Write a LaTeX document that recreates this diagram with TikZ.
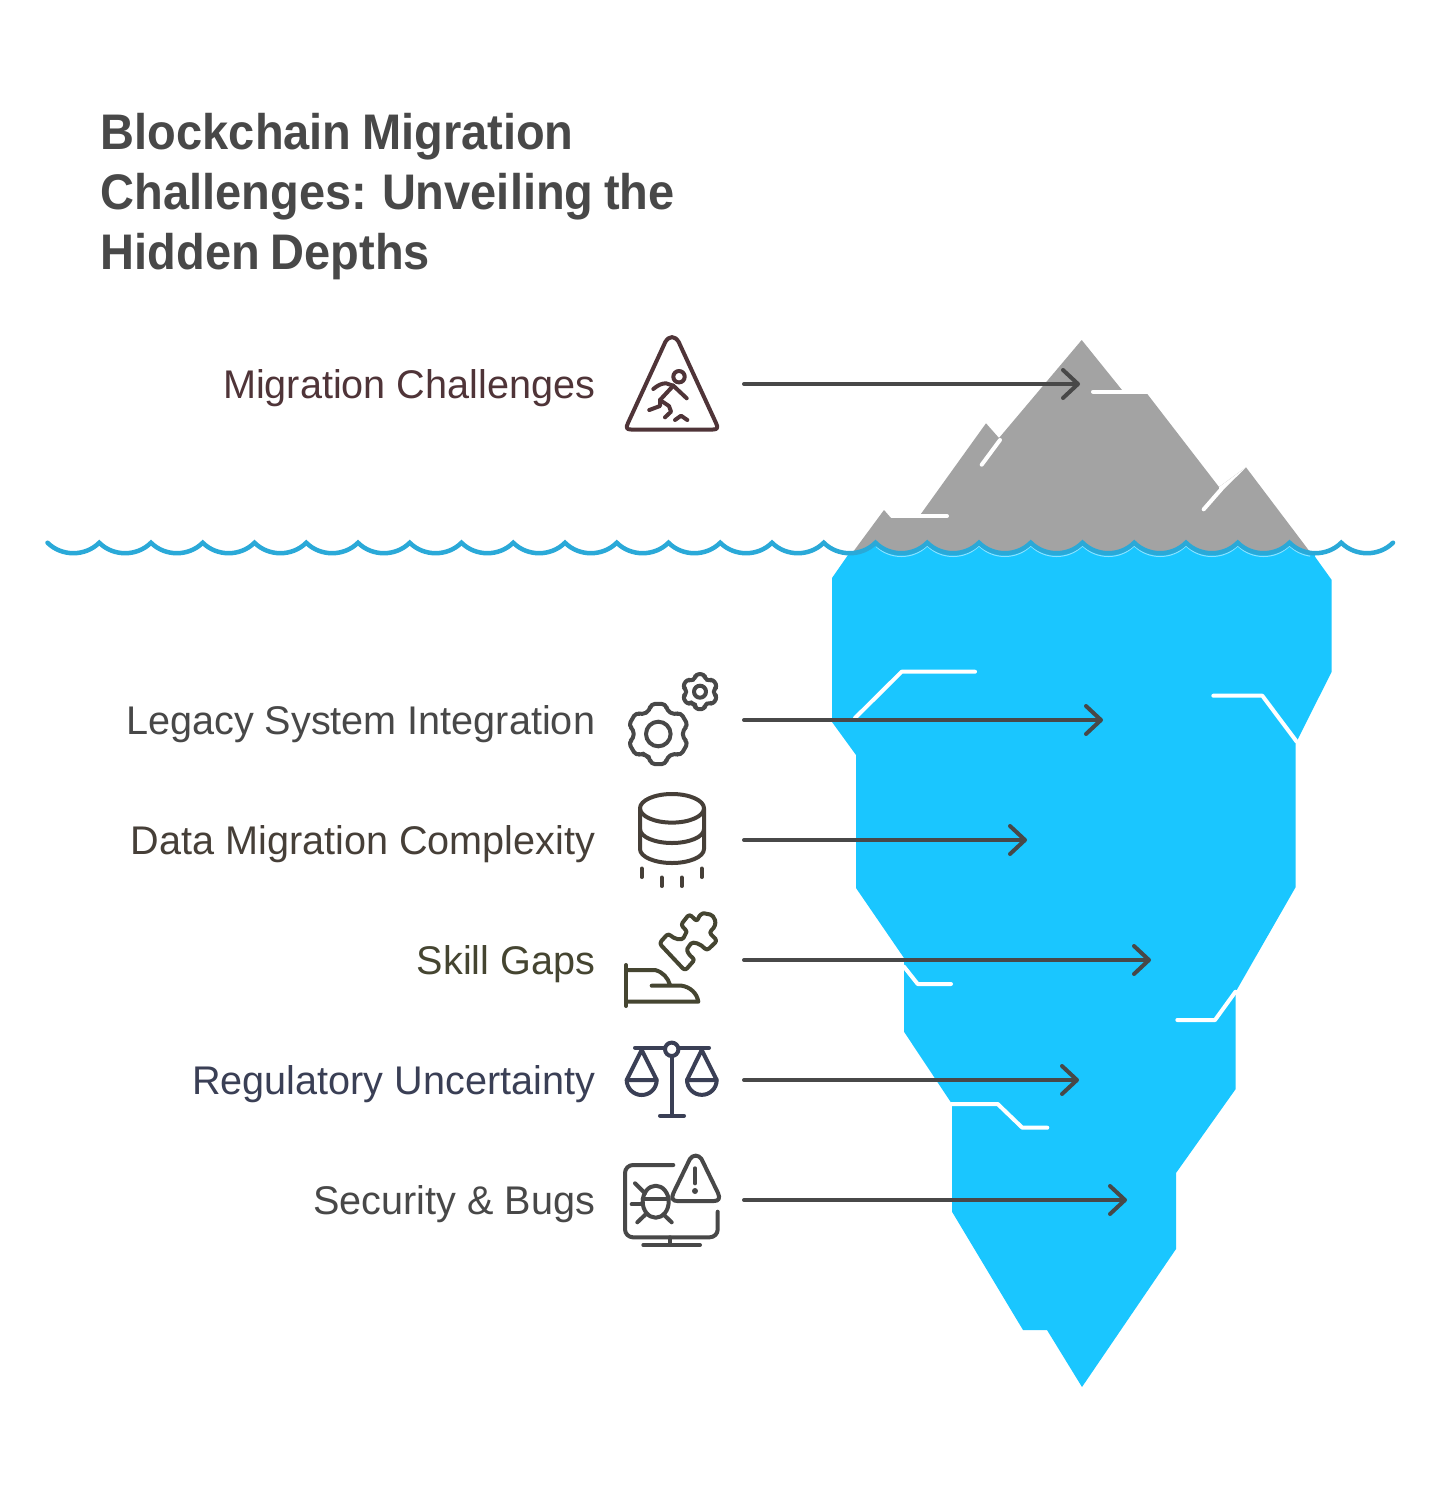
\documentclass[tikz,border=0pt]{standalone}
\usepackage{fontspec}
\setmainfont{Liberation Sans}
\newfontfamily\labelfont[FakeStretch=0.99]{Liberation Sans}
\newfontfamily\titlefont[FakeStretch=0.94,WordSpace=0.8]{Liberation Sans Bold}
\usetikzlibrary{arrows.meta}
\definecolor{berg}{HTML}{1AC6FF}
\definecolor{rock}{HTML}{A3A3A3}
\definecolor{wavec}{HTML}{2AA9D8}
\definecolor{ink}{HTML}{484848}
\definecolor{cA}{HTML}{4F3438}
\definecolor{cC}{HTML}{463F38}
\definecolor{cD}{HTML}{454531}
\definecolor{cE}{HTML}{3A3F55}
\newcommand\wavearcs{\foreach \k [evaluate=\k as \xb using 61.5+51.75*\k, evaluate=\k as \xc using 85.25+51.75*\k, evaluate=\k as \xd using 99.25+51.75*\k] in {0,...,25}{ .. controls (\xb,556.7) and (\xc,556.7) .. (\xd,542.7)}}
\tikzset{
  x=0.5pt,y=-0.5pt,
  crack/.style={draw=white,line width=2pt,line cap=round,line join=round},
  pointer/.style={draw=ink,line width=2pt,line cap=round,-{Straight Barb[length=7.5pt,width=14pt,round]}},
  lbl/.style={anchor=base east,inner sep=0pt,font=\labelfont\fontsize{20}{24}\selectfont},
  ico/.style={line width=2pt,line cap=round,line join=round},
}
\begin{document}
\begin{tikzpicture}
\useasboundingbox (0,0) rectangle (1442,1489);
\fill[white] (0,0) rectangle (1442,1489);
% title
\node[anchor=north west,inner sep=0pt,align=left,text=ink,font=\titlefont\fontsize{25}{30}\selectfont] (title) at (100.5,112.5) {Blockchain Migration\\Challenges: Unveiling the\\Hidden Depths};
% grey tip
\fill[rock] (853,552) -- (884,510) -- (891,518) -- (918,518) -- (986,423.3) -- (999,438) -- (1081.7,340) -- (1122,390) -- (1122,394) -- (1147.3,394) -- (1219,487) -- (1246,467.3) -- (1310,552) -- (1310,560) -- (853,560) -- cycle;
\fill[white] (1219,487) -- (1219,490) -- (1204,509) -- (1246,467.3) -- cycle;
% white cracks grey
\draw[crack] (1093,391.7) -- (1130,391.7);
\draw[crack] (981.7,464.7) -- (1000,440);
\draw[crack] (1203.7,509.3) -- (1221,489.5);
\draw[crack] (900,516) -- (947,516);
% blue part
\begin{scope}
\clip (47.5,542.7) \wavearcs -- (1393.5,1489) -- (47.5,1489) -- cycle;
\fill[berg] (832,578) -- (848,555) -- (848,535) -- (1315,535) -- (1315,556.7) -- (1331.7,580) -- (1331.7,671.7) -- (1295.7,743.3) -- (1295.7,887) -- (1235.7,991.7) -- (1235.7,1089) -- (1176,1173) -- (1176,1249) -- (1082,1387) -- (1047,1330) -- (1023,1330) -- (952,1211.7) -- (952,1104) -- (904,1031.7) -- (904,958) -- (856,888) -- (856,755) -- (832,722) -- cycle;
\end{scope}
% white cracks blue
\draw[crack] (975,671.7) -- (901.7,671.7) -- (855,718);
\draw[crack] (1213.3,695.7) -- (1262.3,695.7) -- (1296.7,741.7);
\draw[crack] (904,966.7) -- (917.7,984) -- (951,984);
\draw[crack] (1177.3,1020) -- (1215,1020) -- (1235.5,991.7);
\draw[crack] (951.7,1104) -- (997.7,1104) -- (1022.3,1127.7) -- (1047.3,1127.7);
% wave
\begin{scope}
\clip (876,530) rectangle (1310,570);
\draw[draw=white!50!berg,line width=0.5pt,shift={(0,3.3)}] (47.5,542.7) \wavearcs;
\end{scope}
\draw[wavec,line width=2.25pt,line cap=round,line join=miter] (47.5,542.7) \wavearcs;
% labels
\node[lbl,text=cA] (l1) at (595.5,398) {Migration Challenges};
\node[lbl,text=ink] (l2) at (595.5,734) {Legacy System Integration};
\node[lbl,text=cC] (l3) at (595.5,854) {Data Migration Complexity};
\node[lbl,text=cD] (l4) at (595.5,974) {Skill Gaps};
\node[lbl,text=cE] (l5) at (595.5,1094) {Regulatory Uncertainty};
\node[lbl,text=ink] (l6) at (595.5,1214) {Security \& Bugs};
% icon 1
\begin{scope}[ico,draw=cA]
\draw (665.3,342) .. controls (669,335.5) and (675,335.5) .. (678.7,342) -- (716,423) .. controls (718.5,428) and (717,429.5) .. (713,429.5) -- (631,429.5) .. controls (627,429.5) and (625.5,428) .. (628,423) -- cycle;
\draw (679,376.7) circle[radius=5.7];
\draw (653.3,389) .. controls (658,385) and (662,383.3) .. (666,383.3) -- (673.3,385.7) -- (686.7,398.3);
\draw (673.3,385.7) -- (660,400) -- (660,406) -- (649.3,410);
\draw (660,400) -- (669,406) -- (671,411.7) -- (665,417.3);
\draw (675,420) -- (681,415.7) -- (687.3,420);
\end{scope}
% icon 2
\begin{scope}[ico,draw=ink]
\draw[shift={(658.3,734)},rounded corners=2pt] (120:25) \foreach \a in {90,30,-30,-90,-150,-210}{ -- (\a+20:25) -- (\a+14:31) -- (\a-14:31) -- (\a-20:25)} -- cycle;
\draw (658.3,734) circle[radius=12.3];
\draw[shift={(700,691.7)},rounded corners=1.5pt] (120:14) \foreach \a in {90,30,-30,-90,-150,-210}{ -- (\a+20:14) -- (\a+14:18) -- (\a-14:18) -- (\a-20:14)} -- cycle;
\draw (700,691.7) circle[radius=6];
\end{scope}
% icon 3
\begin{scope}[ico,draw=cC]
\draw (672,808.3) ellipse[x radius=32,y radius=14.3];
\draw (640,808.3) -- (640,849) .. controls (640,857) and (655,863) .. (672,863) .. controls (689,863) and (704,857) .. (704,849) -- (704,808.3);
\draw (640,829) .. controls (640,837) and (655,843) .. (672,843) .. controls (689,843) and (704,837) .. (704,829);
\draw (641.7,868.5) -- (641.7,877);
\draw (661.7,877.5) -- (661.7,886);
\draw (681.7,877.5) -- (681.7,886);
\draw (701.7,868.5) -- (701.7,877);
\end{scope}
% icon 4
\begin{scope}[ico,draw=cD]
\draw (626,965) -- (626,1006);
\draw (626,970) -- (655,970) .. controls (663,972) and (668,978) .. (670,985);
\draw (651.7,985.7) -- (681.7,985.7) .. controls (690,987) and (697,993) .. (698.3,1001.7) -- (626,1001.7);
\draw[rounded corners=1.5pt] (659.3,943.3) -- (668.3,933.3) .. controls (674,939) and (682,941) .. (685,935) .. controls (687,931) and (684,928) .. (680.7,925) -- (689.3,914) -- (697.3,921.7) .. controls (699,915) and (703,913) .. (707,914) .. controls (714,915) and (719,924) .. (709,932.3) -- (717.3,940.7) -- (706.7,950.7) .. controls (701,944) and (693,941) .. (689,946) .. controls (686,951) and (690,956) .. (695,959.3) -- (685,970.7) -- cycle;
\end{scope}
% icon 5
\begin{scope}[ico,draw=cE]
\draw (635,1047.7) -- (709,1047.7);
\draw (671.7,1056) -- (671.7,1115.7);
\draw (660,1115.7) -- (684,1115.7);
\draw[fill=white] (671.7,1049.3) circle[radius=6.7];
\draw (641.7,1050) -- (626.7,1080) -- (656.7,1080) -- cycle;
\draw (626.7,1080) arc[start angle=180,end angle=0,radius=15];
\draw (701.7,1050) -- (687,1080) -- (716.7,1080) -- cycle;
\draw (687,1080) arc[start angle=180,end angle=0,radius=14.85];
\end{scope}
% icon 6
\begin{scope}[ico,draw=ink]
\draw[rounded corners=4pt] (673.3,1165) -- (625,1165) -- (625,1237.3) -- (717.7,1237.3) -- (717.7,1211.7);
\draw (670,1237.3) -- (670,1245);
\draw (643.3,1245) -- (700,1245);
\draw (689.9,1159) .. controls (693,1154.5) and (698.4,1154.5) .. (701.5,1159) -- (718,1193) .. controls (720.5,1198.5) and (718.5,1201) .. (714,1201) -- (677.4,1201) .. controls (672.9,1201) and (670.9,1198.5) .. (673.4,1193) -- cycle;
\draw (695,1168.3) -- (695,1183.3);
\fill[ink] (695,1191) circle[radius=3];
\draw (655.7,1201.7) ellipse[x radius=13,y radius=16];
\draw (642.7,1199) -- (668.7,1199);
\draw (635,1183.3) -- (645,1193.3);
\draw (631.7,1204.3) -- (641.7,1204.3);
\draw (637.3,1222.3) -- (645.7,1214.3);
\draw (671.7,1222.3) -- (663.3,1214.3);
\end{scope}
% connectors
\coordinate (s1) at (744,384); \coordinate (t1) at (1080,384);
\coordinate (s2) at (744,720); \coordinate (t2) at (1103,720);
\coordinate (s3) at (744,840); \coordinate (t3) at (1027,840);
\coordinate (s4) at (744,960); \coordinate (t4) at (1151,960);
\coordinate (s5) at (744,1080); \coordinate (t5) at (1079,1080);
\coordinate (s6) at (744,1200); \coordinate (t6) at (1127,1200);
\foreach \i in {1,...,6}{\draw[pointer] (s\i) -- (t\i);}
\end{tikzpicture}
\end{document}
